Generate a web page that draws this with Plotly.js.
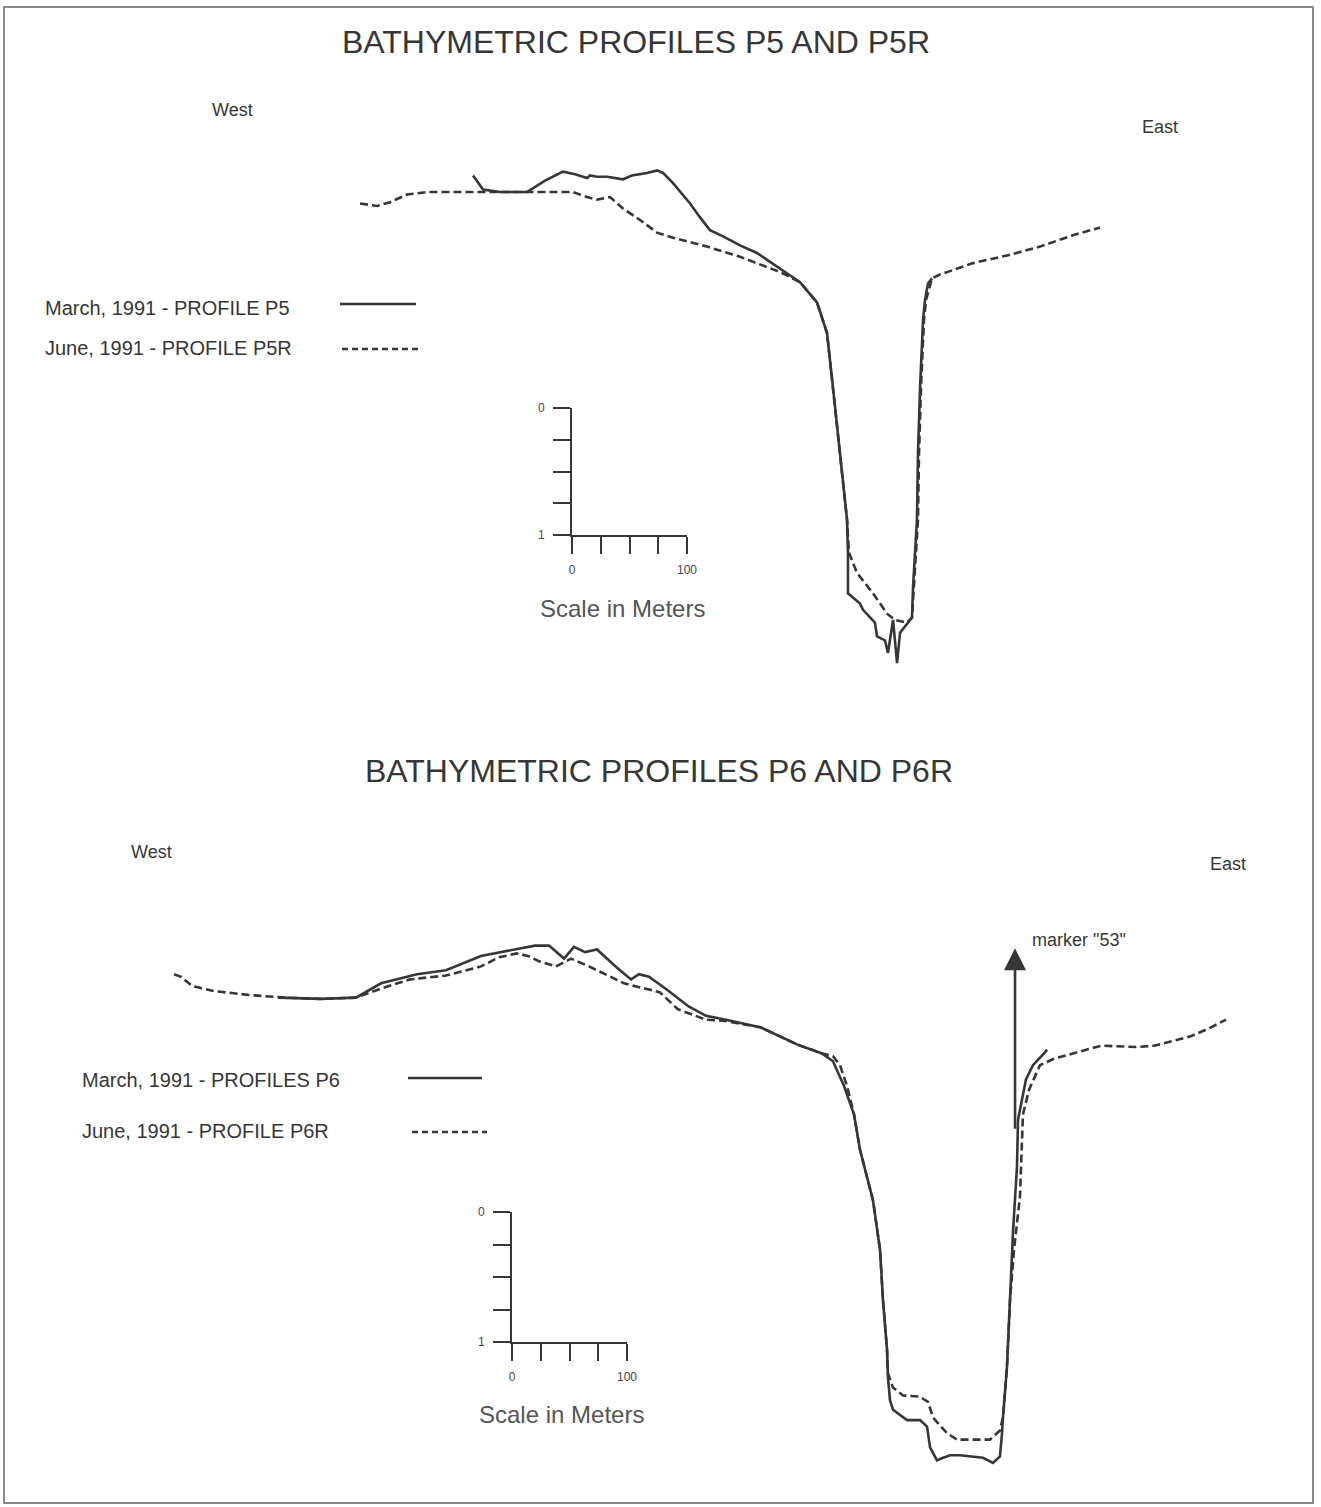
<!DOCTYPE html>
<html>
<head>
<meta charset="utf-8">
<script src="https://cdn.plot.ly/plotly-3.0.1.min.js"></script>
<style>
  html, body { margin: 0; padding: 0; background: #fff; overflow: hidden; }
  #chart { width: 1321px; height: 1507px; }
</style>
</head>
<body>
<div id="chart"></div>
<script>
// ---------------- DATA (distance along profile in m, depth below bank level in m) ----------------
// Profile P5 (March 1991, solid)
const p5Dist  = [98.3,107.0,121.7,145.2,160.9,176.5,187.0,197.4,200.0,206.1,214.8,228.7,236.5,243.5,249.6,258.3,263.5,272.2,287.0,295.7,304.3,315.7,330.4,345.2,365.2,382.6,397.4,406.1,411.3,417.4,423.5,424.3,424.3,434.8,437.4,447.8,449.6,456.5,459.1,463.5,467.0,469.6,476.5,480.0,480.9,484.3,485.2,487.0,489.6,491.3,493.9,497.4];
const p5Depth = [-0.13,-0.02,0.00,0.00,-0.09,-0.16,-0.14,-0.11,-0.13,-0.12,-0.12,-0.10,-0.13,-0.14,-0.15,-0.17,-0.15,-0.07,0.09,0.20,0.30,0.35,0.42,0.48,0.60,0.71,0.87,1.11,1.54,2.06,2.58,2.84,3.16,3.24,3.29,3.39,3.50,3.53,3.63,3.37,3.71,3.47,3.39,3.35,3.11,2.58,2.06,1.54,1.01,0.85,0.72,0.68];
// Profile P5R (June 1991, dashed)
const p5rDist  = [0,14.8,26.1,40.9,58.3,104.3,147.8,185.2,197.4,206.1,217.4,228.7,243.5,258.3,272.2,301.7,330.4,345.2,365.2,382.6,397.4,406.1,411.3,417.4,423.5,425.2,432.2,446.1,458.3,465.2,475.7,480.0,481.7,485.2,486.1,487.8,490.4,492.2,497.4,504.3,533.0,562.6,591.3,620.0,643.5];
const p5rDepth = [0.09,0.11,0.08,0.02,0.00,0.00,0.00,0.00,0.04,0.06,0.04,0.13,0.22,0.32,0.36,0.43,0.51,0.56,0.63,0.71,0.87,1.11,1.54,2.06,2.58,2.84,3.00,3.16,3.32,3.37,3.39,3.35,3.11,2.58,2.06,1.54,1.01,0.85,0.68,0.65,0.56,0.50,0.43,0.34,0.28];
// Profile P6 (March 1991, solid)
const p6Dist  = [91.3,128.7,159.1,180.9,212.2,237.4,267.8,299.1,314.8,327.0,340.0,348.7,358.3,368.7,386.1,398.3,405.2,413.9,429.6,448.7,463.5,480.9,511.3,542.6,564.3,573.9,583.5,592.2,597.4,608.7,614.8,617.4,620.9,621.7,623.5,626.1,638.3,649.6,655.7,658.3,664.3,669.6,675.7,684.3,704.3,713.0,719.1,720.9,721.7,725.2,727.8,730.4,733.9,734.8,741.7,747.8,757.4,760.0];
const p6Depth = [0.02,0.03,0.02,-0.09,-0.16,-0.19,-0.30,-0.35,-0.38,-0.38,-0.28,-0.37,-0.33,-0.35,-0.21,-0.12,-0.16,-0.14,-0.04,0.09,0.16,0.19,0.25,0.38,0.45,0.51,0.70,0.92,1.19,1.58,1.96,2.35,2.73,2.94,3.12,3.19,3.27,3.27,3.32,3.48,3.58,3.56,3.54,3.54,3.56,3.60,3.55,3.37,3.25,2.86,2.35,1.83,1.32,0.96,0.65,0.54,0.45,0.42];
// Profile P6R (June 1991, dashed)
const p6rDist  = [0.9,7.0,16.5,35.7,66.1,97.4,128.7,159.1,180.9,206.1,237.4,267.8,283.5,299.1,308.7,318.3,333.0,346.1,361.7,392.2,423.5,439.1,463.5,480.9,511.3,542.6,564.3,573.9,580.0,586.1,592.2,597.4,608.7,614.8,617.4,620.9,621.7,626.1,634.8,649.6,656.5,660.9,673.0,681.7,710.4,719.1,721.7,725.2,727.8,731.3,736.5,738.3,739.1,744.3,753.9,766.1,791.3,807.0,837.4,853.0,884.3,900.0,915.7];
const p6rDepth = [-0.16,-0.14,-0.07,-0.03,0.00,0.02,0.03,0.02,-0.05,-0.12,-0.15,-0.22,-0.29,-0.32,-0.30,-0.26,-0.22,-0.28,-0.22,-0.09,-0.02,0.11,0.19,0.20,0.25,0.38,0.45,0.47,0.54,0.70,0.92,1.19,1.58,1.96,2.35,2.73,2.91,3.02,3.08,3.09,3.13,3.25,3.37,3.42,3.42,3.35,3.25,2.86,2.35,1.96,1.55,1.19,0.92,0.73,0.54,0.49,0.43,0.39,0.40,0.39,0.32,0.26,0.19];
// Scale bar ticks
const scaleDistTicks  = [0, 25, 50, 75, 100];
const scaleDistLabels = ['0', '', '', '', '100'];
const scaleDepthTicks  = [0, 0.25, 0.5, 0.75, 1];
const scaleDepthLabels = ['0', '', '', '', '1'];
// Marker "53" position on profile P6 (distance m, depth range m)
const marker53Dist = 732.2;
const marker53Depth = [1.04, -0.36];

// Text
const titles = ['BATHYMETRIC PROFILES P5 AND P5R', 'BATHYMETRIC PROFILES P6 AND P6R'];
const legendP5 = ['March, 1991 - PROFILE P5', 'June, 1991 - PROFILE P5R'];
const legendP6 = ['March, 1991 - PROFILES P6', 'June, 1991 - PROFILE P6R'];

// ---------------- LAYOUT CONFIG (pixels) ----------------
const W = 1321, H = 1507, SPLIT = 750;
const PX_PER_M = 1.15;
const TOP = { originPx: 360, refPy: 192, pxPerDepth: 127, scaleAt: [572, 408] };
const BOT = { originPx: 173, refPy: 995, pxPerDepth: 130, scaleAt: [512, 1212] };
const FONT = '"Liberation Sans", Arial, Helvetica, sans-serif';
const INK = '#363636';

const px = v => v / W;
const py = v => 1 - v / H;

function mainAxes(cfg, pyTop, pyBot) {
  const common = { showgrid: false, zeroline: false, showline: false, showticklabels: false, ticks: '' };
  return {
    x: Object.assign({}, common, { domain: [0, 1], range: [(0 - cfg.originPx) / PX_PER_M, (W - cfg.originPx) / PX_PER_M] }),
    y: Object.assign({}, common, { domain: [py(pyBot), py(pyTop)], range: [(pyBot - cfg.refPy) / cfg.pxPerDepth, (pyTop - cfg.refPy) / cfg.pxPerDepth] })
  };
}
function scaleAxes(cfg, xa, ya) {
  const [sx, sy] = cfg.scaleAt;
  const common = { showgrid: false, zeroline: false, showline: true, linecolor: INK, linewidth: 2,
    ticks: 'outside', ticklen: 17, tickwidth: 2, tickcolor: INK, ticklabelstandoff: 6,
    tickfont: { family: FONT, size: 12, color: '#444' }, fixedrange: true };
  return {
    x: Object.assign({}, common, { anchor: ya, domain: [px(sx), px(sx + 100 * PX_PER_M)], range: [0, 100],
      tickmode: 'array', tickvals: scaleDistTicks, ticktext: scaleDistLabels }),
    y: Object.assign({}, common, { anchor: xa, domain: [py(sy + cfg.pxPerDepth), py(sy)], range: [1, 0],
      tickmode: 'array', tickvals: scaleDepthTicks, ticktext: scaleDepthLabels })
  };
}

const topAx = mainAxes(TOP, 0, SPLIT);
const botAx = mainAxes(BOT, SPLIT, H);
const topScale = scaleAxes(TOP, 'x3', 'y3');
const botScale = scaleAxes(BOT, 'x4', 'y4');

const solid = { color: INK, width: 2.6 };
const dashed = { color: INK, width: 2.6, dash: '8px,4px' };

// invisible anchor traces so that the scale-bar subplots are created
const scaleAnchor = (xa, ya) => ({ x: [scaleDistTicks[0]], y: [scaleDepthTicks[0]], xaxis: xa, yaxis: ya,
  mode: 'markers', marker: { opacity: 0, size: 1 }, hoverinfo: 'skip', showlegend: false });

const traces = [
  { x: p5rDist, y: p5rDepth, xaxis: 'x', yaxis: 'y', mode: 'lines', line: dashed, name: legendP5[1] },
  { x: p5Dist, y: p5Depth, xaxis: 'x', yaxis: 'y', mode: 'lines', line: solid, name: legendP5[0] },
  { x: p6rDist, y: p6rDepth, xaxis: 'x2', yaxis: 'y2', mode: 'lines', line: dashed, name: legendP6[1] },
  { x: p6Dist, y: p6Depth, xaxis: 'x2', yaxis: 'y2', mode: 'lines', line: solid, name: legendP6[0] },
  scaleAnchor('x3', 'y3'),
  scaleAnchor('x4', 'y4')
];

function txt(text, x, y, size, anchor, extra) {
  return Object.assign({ text: text, xref: 'paper', yref: 'paper', x: px(x), y: py(y), xanchor: anchor || 'center',
    yanchor: 'middle', showarrow: false, font: { family: FONT, size: size, color: INK } }, extra || {});
}

const annotations = [
  txt(titles[0], 636, 42, 32),
  txt(titles[1], 659, 771, 32),
  txt('West', 232, 110, 18),
  txt('East', 1160, 127, 18),
  txt('West', 151, 852, 18),
  txt('East', 1228, 864, 18),
  txt(legendP5[0], 43, 308, 20, 'left'),
  txt(legendP5[1], 43, 348, 20, 'left'),
  txt(legendP6[0], 80, 1080, 20, 'left'),
  txt(legendP6[1], 80, 1131, 20, 'left'),
  txt('Scale in Meters', 622, 608, 24, 'center', { font: { family: FONT, size: 24, color: '#555' } }),
  txt('Scale in Meters', 561, 1414, 24, 'center', { font: { family: FONT, size: 24, color: '#555' } }),
  txt('marker "53"', 1030, 940, 18, 'left'),
  { xref: 'x2', yref: 'y2', axref: 'x2', ayref: 'y2', x: marker53Dist, y: marker53Depth[1],
    ax: marker53Dist, ay: marker53Depth[0], text: '', showarrow: true, arrowhead: 2, arrowsize: 1.7,
    arrowwidth: 2.6, arrowcolor: INK, standoff: 0 }
];

function sample(x0, x1, y, dash) {
  return { type: 'line', xref: 'paper', yref: 'paper', x0: px(x0), x1: px(x1), y0: py(y), y1: py(y),
    line: { color: INK, width: 2.6, dash: dash } };
}
const shapes = [
  sample(340, 416, 304, 'solid'),
  sample(342, 418, 349, '6px,4px'),
  sample(408, 482, 1078, 'solid'),
  sample(412, 487, 1132, '6px,4px'),
  { type: 'rect', xref: 'paper', yref: 'paper', x0: px(4), x1: px(1313), y0: py(1503), y1: py(7),
    line: { color: '#8a8a8a', width: 2 } }
];

const layout = {
  width: W, height: H, margin: { l: 0, r: 0, t: 0, b: 0, pad: 0 },
  paper_bgcolor: '#ffffff', plot_bgcolor: 'rgba(0,0,0,0)', showlegend: false,
  xaxis: Object.assign(topAx.x, { anchor: 'y' }), yaxis: Object.assign(topAx.y, { anchor: 'x' }),
  xaxis2: Object.assign(botAx.x, { anchor: 'y2' }), yaxis2: Object.assign(botAx.y, { anchor: 'x2' }),
  xaxis3: topScale.x, yaxis3: topScale.y,
  xaxis4: botScale.x, yaxis4: botScale.y,
  annotations: annotations, shapes: shapes
};

Plotly.newPlot('chart', traces, layout, { staticPlot: true, displayModeBar: false });
</script>
</body>
</html>
